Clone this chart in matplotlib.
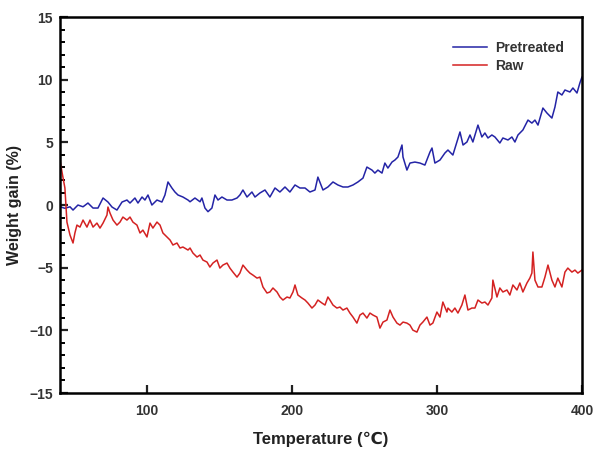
import matplotlib
matplotlib.use('Agg')
import matplotlib.pyplot as plt
from matplotlib.ticker import MultipleLocator

plt.rcParams['font.family'] = ['Liberation Sans', 'DejaVu Sans']

# values (temperature in C, weight gain in %)
temp_pre = [40.0, 43.4, 46.9, 49.0, 52.4, 55.9, 59.3, 62.8, 66.2, 69.7, 73.1, 75.9, 79.3,
            82.8, 86.2, 88.3, 91.7, 93.8, 96.6, 98.6, 100.7, 103.4, 106.9, 110.3, 112.4,
            114.5, 117.2, 119.3, 121.4, 124.8, 128.3, 129.7, 133.1, 136.6, 137.9, 140.0,
            142.1, 144.8, 146.9, 149.0, 151.7, 155.2, 158.6, 162.1, 164.1, 166.2, 169.0,
            172.4, 174.5, 177.9, 181.4, 184.8, 188.3, 191.7, 195.2, 198.6, 202.1, 205.5,
            209.0, 212.4, 215.9, 217.9, 221.4, 224.8, 228.3, 231.7, 235.2, 238.6, 242.1,
            245.5, 249.0, 251.7, 255.2, 257.2, 259.3, 262.1, 264.1, 266.2, 269.0, 271.0,
            273.1, 275.9, 276.6, 279.3, 281.4, 284.8, 288.3, 291.7, 295.2, 296.6, 298.6,
            302.1, 305.5, 307.6, 311.0, 313.8, 315.9, 318.0, 320.7, 322.8, 324.8, 328.3,
            331.0, 333.1, 335.2, 337.9, 340.0, 343.4, 345.5, 349.0, 351.7, 353.8, 355.9,
            359.3, 362.8, 365.5, 367.6, 369.7, 373.1, 375.9, 379.3, 381.4, 383.4, 386.2,
            388.3, 391.7, 393.8, 396.6, 398.6, 400.0]
gain_pre = [-0.14, -0.26, -0.14, -0.40, 0.00, -0.14, 0.16, -0.24, -0.24, 0.56, 0.24, -0.16,
            -0.40, 0.24, 0.40, 0.16, 0.56, 0.16, 0.64, 0.40, 0.80, 0.00, 0.40, 0.24, 0.80,
            1.84, 1.36, 1.04, 0.80, 0.64, 0.40, 0.26, 0.56, 0.26, 0.56, -0.24, -0.53, -0.24,
            0.80, 0.40, 0.64, 0.40, 0.40, 0.56, 0.80, 1.20, 0.64, 1.04, 0.64, 0.96, 1.20,
            0.64, 1.36, 1.04, 1.44, 1.04, 1.60, 1.36, 1.36, 1.04, 1.20, 2.23, 1.20, 1.44,
            1.84, 1.60, 1.44, 1.44, 1.60, 1.84, 2.15, 3.03, 2.79, 2.55, 2.79, 2.55, 3.35,
            2.95, 3.43, 3.59, 3.83, 4.79, 3.83, 2.79, 3.35, 3.43, 3.35, 3.19, 4.23, 4.55,
            3.35, 3.59, 4.15, 4.39, 3.99, 5.03, 5.83, 4.79, 5.03, 5.59, 5.03, 6.38, 5.43,
            5.75, 5.35, 5.59, 5.43, 4.95, 5.35, 5.19, 5.43, 5.03, 5.59, 5.99, 6.78, 6.54,
            6.78, 6.38, 7.74, 7.34, 6.94, 7.82, 9.02, 8.78, 9.18, 9.02, 9.34, 8.94, 9.74, 10.2]

temp_raw = [40.0, 41.4, 43.4, 44.8, 46.9, 49.0, 50.3, 51.7, 53.8, 55.9, 58.6, 60.7, 62.8,
            65.5, 67.6, 69.7, 72.4, 73.1, 74.5, 76.6, 79.3, 81.4, 83.4, 86.2, 88.3, 90.3,
            93.1, 95.2, 97.2, 100.0, 102.1, 104.1, 106.9, 109.0, 111.0, 113.8, 115.9, 117.9,
            120.7, 122.8, 124.8, 128.3, 129.7, 131.7, 134.5, 136.6, 138.6, 141.4, 143.4,
            145.5, 148.3, 150.3, 152.4, 155.2, 157.2, 159.3, 162.1, 164.1, 166.2, 169.0,
            171.0, 173.1, 175.9, 177.9, 180.0, 182.8, 184.8, 186.9, 189.7, 191.7, 193.8,
            196.6, 198.6, 200.7, 202.1, 204.1, 206.9, 209.0, 211.0, 213.8, 215.9, 217.9,
            220.7, 222.8, 224.8, 226.2, 228.3, 231.0, 233.1, 235.2, 237.9, 240.0, 242.1,
            244.8, 246.9, 249.0, 251.7, 253.8, 255.9, 258.6, 260.7, 262.8, 265.5, 267.6,
            269.7, 272.4, 274.5, 276.6, 279.3, 281.4, 283.4, 286.2, 288.3, 290.3, 293.1,
            295.2, 297.2, 300.0, 302.1, 304.1, 306.9, 307.6, 310.3, 312.4, 314.5, 317.2,
            319.3, 321.4, 324.1, 326.2, 328.3, 331.0, 333.1, 335.2, 337.9, 338.6, 341.4,
            343.4, 345.5, 348.3, 350.3, 352.4, 355.2, 357.2, 359.3, 362.1, 364.1, 365.5,
            366.2, 367.6, 369.7, 372.4, 374.5, 376.6, 379.3, 381.4, 383.4, 386.2, 388.3,
            390.3, 393.1, 395.2, 397.2, 400.0]
gain_raw = [3.59, 2.63, 1.36, -1.36, -2.39, -3.03, -2.23, -1.60, -1.76, -1.20, -1.76, -1.20,
            -1.76, -1.44, -1.84, -1.44, -0.80, -0.16, -0.64, -1.20, -1.60, -1.36, -0.96,
            -1.20, -0.96, -1.36, -1.60, -2.23, -2.00, -2.55, -1.44, -1.84, -1.36, -1.60,
            -2.23, -2.55, -2.79, -3.19, -3.03, -3.43, -3.35, -3.59, -3.43, -3.83, -4.15,
            -3.99, -4.39, -4.55, -4.95, -4.63, -4.39, -5.03, -4.79, -4.63, -5.03, -5.35,
            -5.75, -5.43, -4.79, -5.19, -5.43, -5.59, -5.83, -5.75, -6.54, -7.02, -6.94,
            -6.62, -6.94, -7.34, -7.58, -7.34, -7.42, -6.94, -6.38, -7.18, -7.42, -7.58,
            -7.82, -8.22, -7.98, -7.58, -7.82, -7.98, -7.34, -7.58, -7.98, -8.22, -8.14,
            -8.38, -8.22, -8.62, -8.94, -9.42, -8.78, -8.62, -9.02, -8.62, -8.78, -8.94,
            -9.82, -9.34, -9.18, -8.38, -8.94, -9.42, -9.58, -9.34, -9.42, -9.58, -9.98,
            -10.14, -9.58, -9.34, -8.94, -9.58, -9.42, -8.54, -8.94, -7.74, -8.54, -8.22,
            -8.54, -8.22, -8.62, -7.98, -7.18, -8.38, -8.22, -8.22, -7.58, -7.82, -7.74,
            -7.98, -7.42, -5.99, -7.34, -6.62, -6.94, -6.78, -7.18, -6.38, -6.78, -6.22,
            -6.94, -6.22, -5.83, -5.43, -3.75, -5.99, -6.54, -6.54, -5.75, -4.79, -5.99,
            -6.54, -5.83, -6.54, -5.35, -5.03, -5.35, -5.19, -5.43, -5.19]

fig = plt.figure(figsize=(5.95, 4.49), dpi=100)
ax = fig.add_axes([0.1008, 0.1247, 0.8772, 0.8373])

ax.plot(temp_pre, gain_pre, color='#2424a6', lw=1.1, label='Pretreated')
ax.plot(temp_raw, gain_raw, color='#d42222', lw=1.1, label='Raw')

ax.set_xlim(40, 400)
ax.set_ylim(-15, 15)
ax.set_xticks([100, 200, 300, 400])
ax.yaxis.set_major_locator(MultipleLocator(5))
ax.yaxis.set_minor_locator(MultipleLocator(1))

for s in ax.spines.values():
    s.set_linewidth(1.8)

ax.tick_params(axis='both', which='major', direction='in', length=6, width=1.6,
               labelsize=10, colors='#222222')
ax.tick_params(axis='y', which='major', pad=5)
ax.tick_params(axis='x', which='major', pad=8)
ax.tick_params(axis='y', which='minor', direction='in', length=3.5, width=1.4)
for lab in ax.get_xticklabels() + ax.get_yticklabels():
    lab.set_fontweight('bold')
    lab.set_color('#333333')

ax.set_ylabel('Weight gain (%)', fontsize=11.5, fontweight='bold', color='#222222', labelpad=5)
ax.set_xlabel('Temperature (\u2103)', fontsize=12, fontweight='bold', color='#222222', labelpad=10)

leg = ax.legend(loc='upper left', frameon=False, fontsize=10, handlelength=2.4,
                handletextpad=0.6, bbox_to_anchor=(0.73, 0.97), labelspacing=0.3)
for t in leg.get_texts():
    t.set_fontweight('bold')
    t.set_color('#333333')

fig.savefig('out.png', dpi=100)
